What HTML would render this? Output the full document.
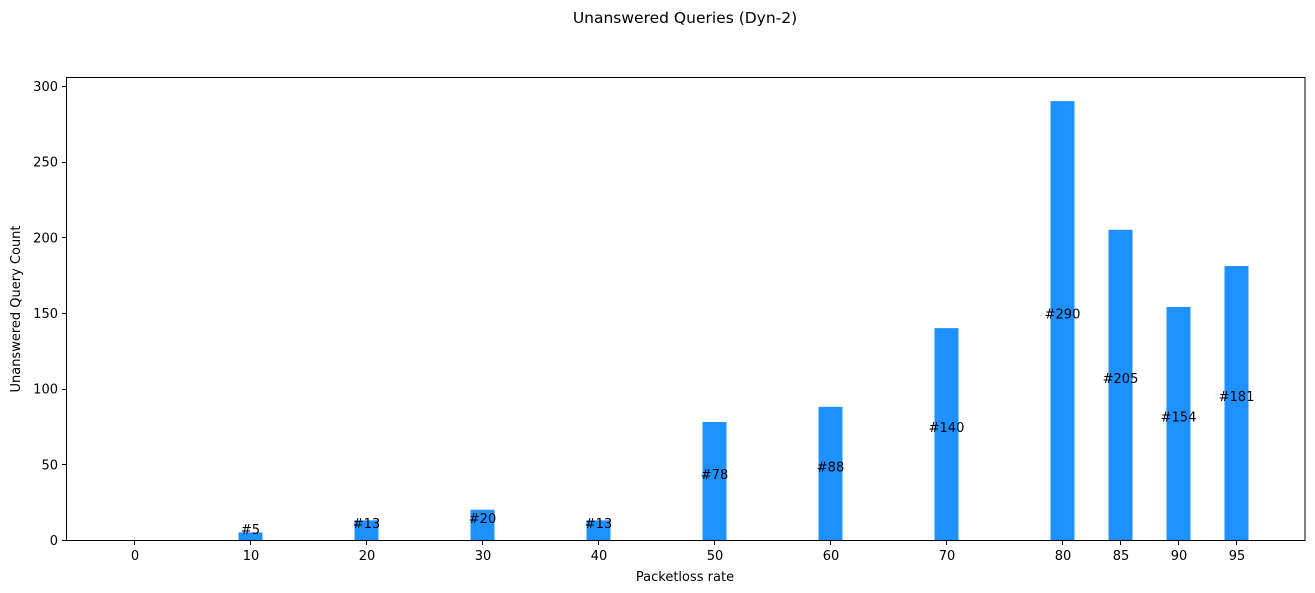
<!DOCTYPE html>
<html><head><meta charset="utf-8"><style>
body{margin:0;background:#fff;}
svg{display:block;font-family:"DejaVu Sans","Liberation Sans",sans-serif;}
</style></head><body>
<svg id="chart" width="1315" height="593">
<text x="685" y="23" text-anchor="middle" font-size="15.5">Unanswered Queries (Dyn-2)</text>
<g id="bars"></g>
<g id="labels"></g>
<g id="yticks"></g>
<g id="xticks"></g>
<rect x="66.5" y="77.5" width="1238.5" height="463" fill="none" stroke="#000" stroke-width="1"/>
<text x="685" y="581" text-anchor="middle" font-size="13">Packetloss rate</text>
<text transform="translate(20,309) rotate(-90)" text-anchor="middle" font-size="13">Unanswered Query Count</text>
</svg>
<script>
const categories = [0,10,20,30,40,50,60,70,80,85,90,95];
const values = [0,5,13,20,13,78,88,140,290,205,154,181];
const yTicks = [0,50,100,150,200,250,300];
const NS = "http://www.w3.org/2000/svg";
function xs(v){return 135 + v*11.6;}
function ys(v){return 540 - v*(454/300);}
function mk(tag, attrs, parent){const e=document.createElementNS(NS,tag);for(const k in attrs)e.setAttribute(k,attrs[k]);parent.appendChild(e);return e;}
const bars=document.getElementById('bars'),labels=document.getElementById('labels'),yt=document.getElementById('yticks'),xt=document.getElementById('xticks');
categories.forEach((c,i)=>{
  const v=values[i];
  const r=mk('rect',{x:xs(c)-12.5,y:ys(v),width:24,height:540-ys(v),fill:'#1e90ff'},bars);
  
  
  if(v>0){
    const t=mk('text',{x:xs(c)-0.5,y:ys(v/2)-2,'text-anchor':'middle','font-size':13},labels);
    t.textContent='#'+v;
    
    
  }
  const tl=mk('line',{x1:Math.round(xs(c))-0.5,x2:Math.round(xs(c))-0.5,y1:540,y2:545,stroke:'#000'},xt);
  
  
  const tx=mk('text',{x:xs(c),y:560,'text-anchor':'middle','font-size':13},xt);
  tx.textContent=c;
  
  
});
yTicks.forEach(v=>{
  const tl=mk('line',{x1:62,x2:67,y1:Math.round(ys(v))+0.5,y2:Math.round(ys(v))+0.5,stroke:'#000'},yt);
  
  
  const tx=mk('text',{x:58,y:ys(v)+5,'text-anchor':'end','font-size':13},yt);
  tx.textContent=v;
  
  
});
</script>
</body></html>
